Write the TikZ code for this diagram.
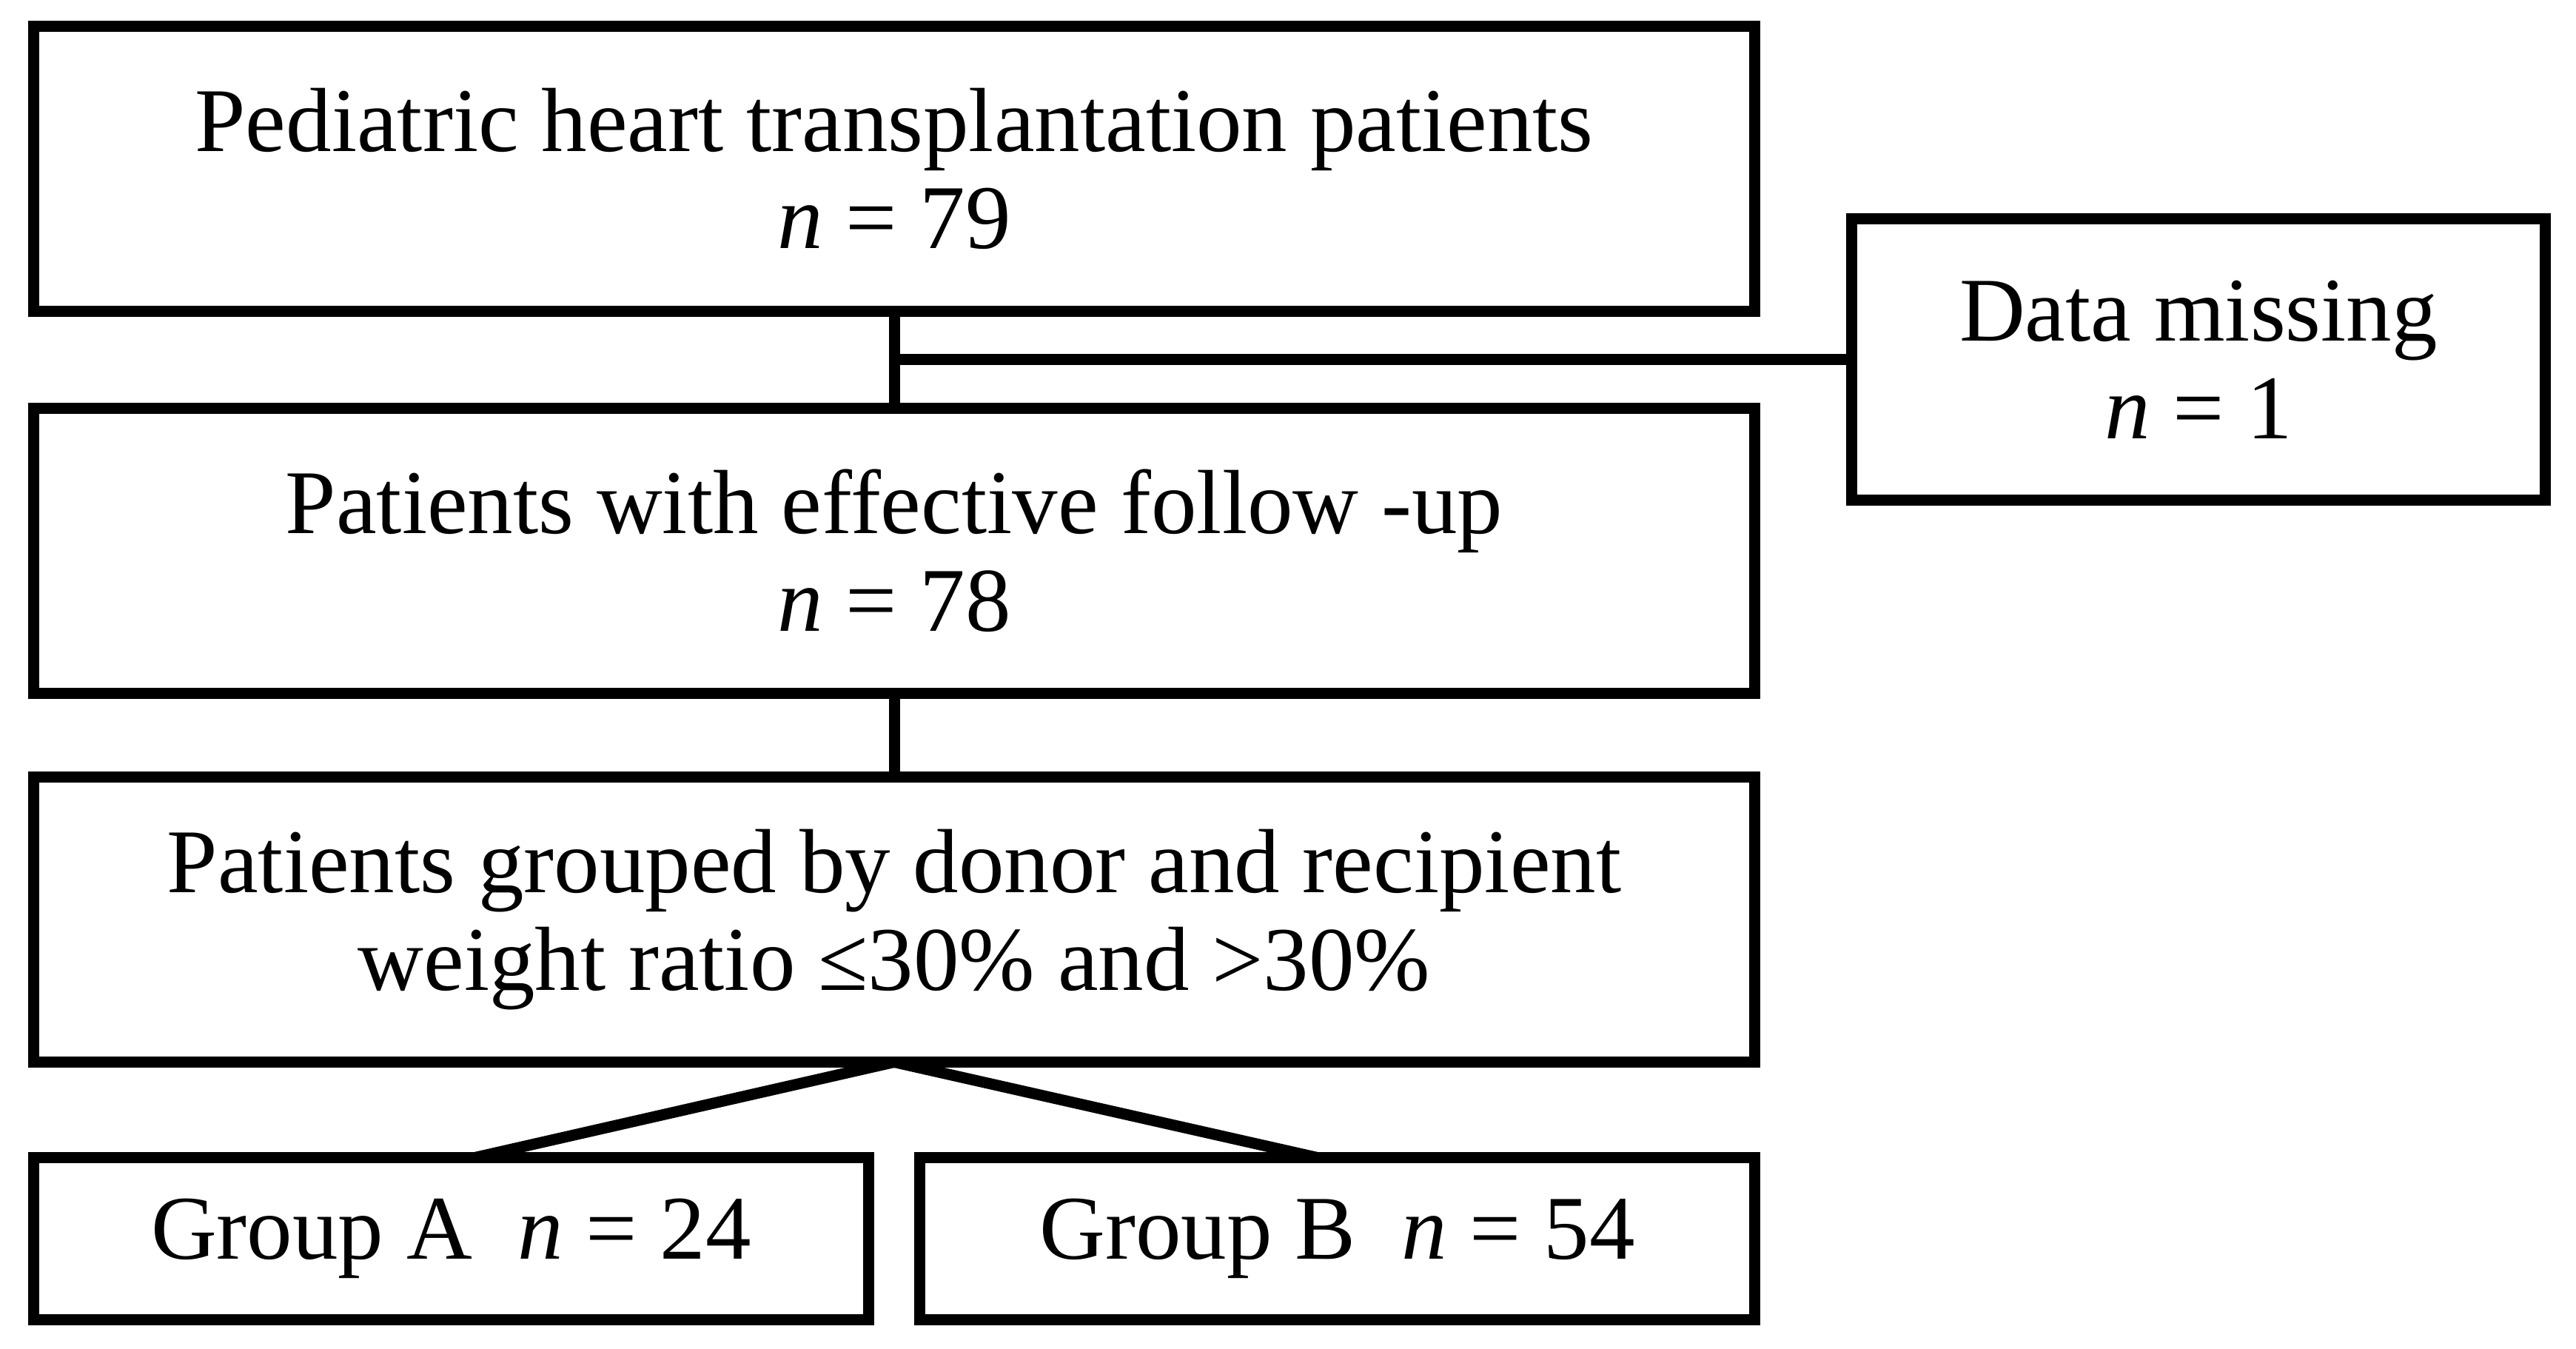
\documentclass[tikz,border=0pt]{standalone}
\usepackage{fontspec}
\setmainfont{Liberation Serif}
\usepackage{tikz}
\usetikzlibrary{positioning, calc}

\begin{document}
\begin{tikzpicture}[
  flowbox/.style={rectangle, draw, line width=0.15cm, outer sep=0pt, minimum width=23.25cm, minimum height=3.85cm, align=center, font=\fontsize{35}{37.5}\selectfont},
  groupbox/.style={flowbox, minimum width=11.28cm, minimum height=2.19cm},
  missbox/.style={flowbox, minimum width=9.37cm, minimum height=3.8cm},
  link/.style={line width=0.15cm}
]
\useasboundingbox (0,0) rectangle (34.8,18.22);
\node [flowbox] (total) at (12.08,15.94) {Pediatric heart transplantation patients\\ \textit{n} = 79};
\node [flowbox, below=1.31cm of total] (follow) {Patients with effective follow -up\\ \textit{n} = 78};
\node [flowbox, below=1.13cm of follow] (grouped) {Patients grouped by donor and recipient\\ weight ratio ≤30\% and >30\%};
\node [groupbox, below right=1.29cm and 0cm of grouped.south west] (grpA) {Group A\ \ \textit{n} = 24};
\node [groupbox, below left=1.29cm and 0cm of grouped.south east] (grpB) {Group B\ \ \textit{n} = 54};
% side branch
\coordinate (split) at ($(total.south)!0.5!(follow.north)$);
\coordinate (splitR) at (split -| total.east);
\node [missbox, right=1.31cm of splitR] (miss) {Data missing\\ \textit{n} = 1};
\draw [link] (total) -- (follow);
\draw [link] (split) -- (miss);
\draw [link] (follow) -- (grouped);
\draw [link] (grouped.south) -- ([xshift=0.32cm]grpA.north);
\draw [link] (grouped.south) -- ([xshift=-0.27cm]grpB.north);
\end{tikzpicture}
\end{document}
